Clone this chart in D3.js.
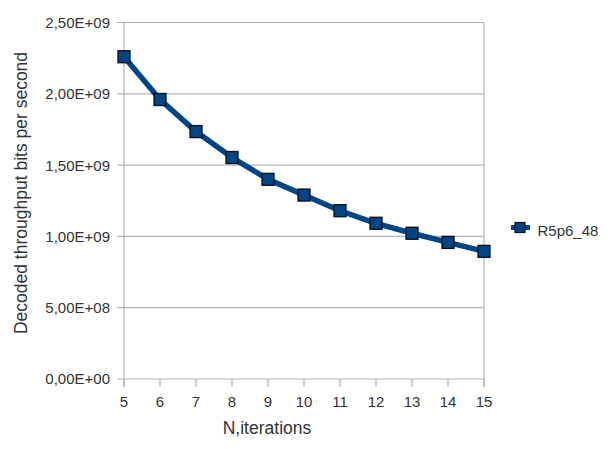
<!DOCTYPE html>
<html><head><meta charset="utf-8">
<script src="https://cdn.jsdelivr.net/npm/d3@7"></script>
<style>body{margin:0;background:#fff}svg{display:block}text{font-family:"Liberation Sans",Arial,sans-serif;fill:#333}</style>
</head><body>
<svg id="c" width="608" height="449"></svg>
<script>
const iterations = [5,6,7,8,9,10,11,12,13,14,15];
const throughput = [2.26e9,1.96e9,1.735e9,1.553e9,1.40e9,1.29e9,1.18e9,1.092e9,1.022e9,0.958e9,0.895e9];
const yTicks = [0,5e8,1e9,1.5e9,2e9,2.5e9];
const yTickLabels = ["0,00E+00","5,00E+08","1,00E+09","1,50E+09","2,00E+09","2,50E+09"];
const seriesName = "R5p6_48";
const xTitle = "N,iterations";
const yTitle = "Decoded throughput bits per second";

const svg = d3.select("#c");
const L=124, R=484, T=22.5, B=379;
const x = d3.scaleLinear().domain([5,15]).range([L,R]);
const y = d3.scaleLinear().domain([0,2.5e9]).range([B,T]);
const grid="#b3b3b3";

// gridlines
svg.append("g").selectAll("line").data(yTicks).join("line")
  .attr("x1",L-7).attr("x2",R).attr("y1",d=>y(d)).attr("y2",d=>y(d))
  .attr("stroke",grid).attr("stroke-width",1.2);
// axes lines
svg.append("line").attr("x1",L).attr("x2",L).attr("y1",T).attr("y2",B+8).attr("stroke",grid).attr("stroke-width",1.2);
svg.append("line").attr("x1",R).attr("x2",R).attr("y1",T).attr("y2",B+8).attr("stroke",grid).attr("stroke-width",1.2);
svg.append("g").selectAll("line").data(iterations).join("line")
  .attr("x1",d=>x(d)).attr("x2",d=>x(d)).attr("y1",B).attr("y2",B+8)
  .attr("stroke",grid).attr("stroke-width",1.2);

// y tick labels
svg.append("g").selectAll("text").data(yTicks).join("text")
  .attr("x",110).attr("y",d=>y(d)).attr("dy","0.36em")
  .attr("text-anchor","end").attr("font-size",15)
  .text((d,i)=>yTickLabels[i]);
// x tick labels
svg.append("g").selectAll("text").data(iterations).join("text")
  .attr("x",d=>x(d)).attr("y",407)
  .attr("text-anchor","middle").attr("font-size",15)
  .text(d=>d);

// titles
svg.append("text").attr("x",267).attr("y",434).attr("text-anchor","middle")
  .attr("font-size",17.5).text(xTitle);
svg.append("text").attr("transform","translate(27,193) rotate(-90)").attr("text-anchor","middle")
  .attr("font-size",17.5).text(yTitle);

// line
const line = d3.line().x((d,i)=>x(iterations[i])).y(d=>y(d));
svg.append("path").datum(throughput).attr("d",line)
  .attr("fill","none").attr("stroke","#004586").attr("stroke-width",5.5).attr("stroke-linejoin","round");
// markers
const ms=12;
svg.append("g").selectAll("rect").data(throughput).join("rect")
  .attr("x",(d,i)=>x(iterations[i])-ms/2).attr("y",d=>y(d)-ms/2)
  .attr("width",ms).attr("height",ms)
  .attr("fill","#004586").attr("stroke","#0a0f1a").attr("stroke-width",1.3);

// legend
const lg = svg.append("g");
lg.append("line").attr("x1",511).attr("x2",530).attr("y1",227.5).attr("y2",227.5)
  .attr("stroke","#004586").attr("stroke-width",5);
lg.append("rect").attr("x",515).attr("y",222.5).attr("width",10).attr("height",10)
  .attr("fill","#004586").attr("stroke","#0a0f1a").attr("stroke-width",1.2);
lg.append("text").attr("x",537.5).attr("y",236).attr("font-size",15).text(seriesName);
</script>
</body></html>
